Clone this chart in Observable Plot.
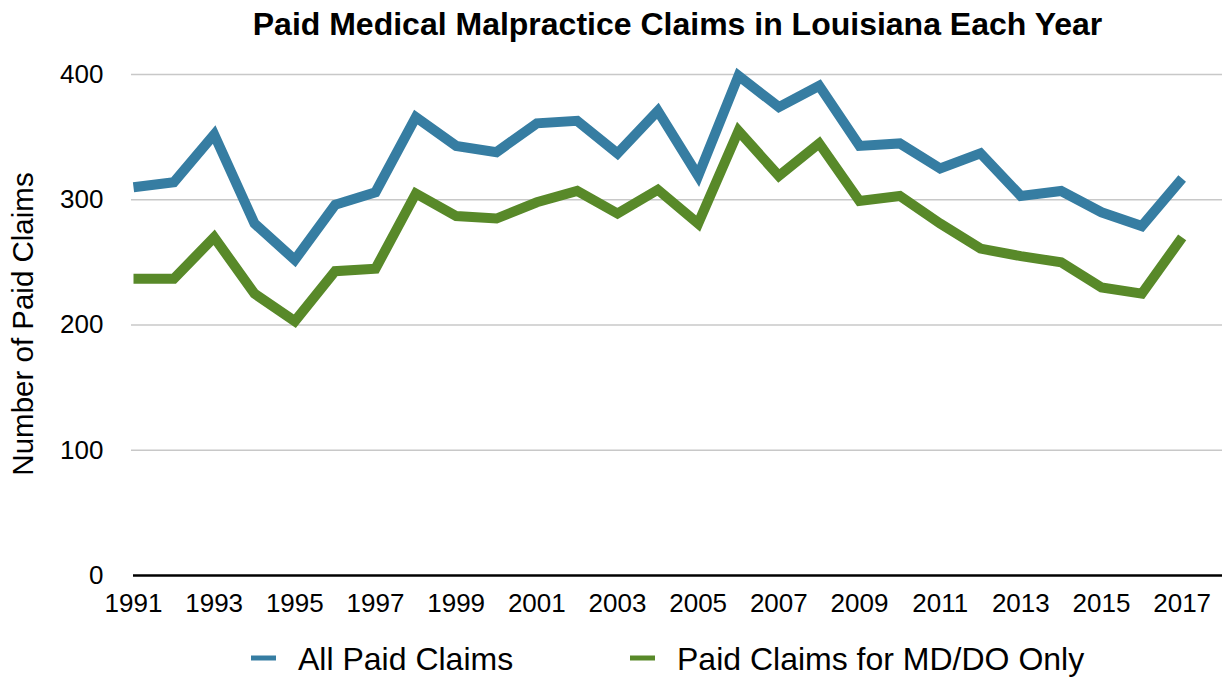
<!DOCTYPE html>
<html>
<head>
<meta charset="utf-8">
<script src="https://cdn.jsdelivr.net/npm/d3@7"></script>
<script src="https://cdn.jsdelivr.net/npm/@observablehq/plot@0.6"></script>
<style>
  html, body { margin: 0; padding: 0; background: #fff; }
  #wrap { position: relative; width: 1224px; height: 677px; font-family: "Liberation Sans", Arial, Helvetica, sans-serif; }
  #overlay { position: absolute; left: 0; top: 0; pointer-events: none; }
</style>
</head>
<body>
<div id="wrap"></div>
<script>
// ---- data ----
const years = [1991,1992,1993,1994,1995,1996,1997,1998,1999,2000,2001,2002,2003,2004,2005,2006,2007,2008,2009,2010,2011,2012,2013,2014,2015,2016,2017];
const allPaidClaims = [310,314,352,281,252,296,306,366,343,338,361,363,337,371,319,399,374,391,343,345,325,337,303,307,290,279,317];
const mdDoOnlyClaims = [237,237,270,225,203,243,245,305,287,285,298,307,289,308,281,355,319,345,299,303,281,261,255,250,230,225,270];
const xTickYears = [1991,1993,1995,1997,1999,2001,2003,2005,2007,2009,2011,2013,2015,2017];
const yTicks = [0,100,200,300,400];
const seriesNames = ["All Paid Claims", "Paid Claims for MD/DO Only"];
const seriesColors = ["#367da2", "#588929"];
const titleText = "Paid Medical Malpractice Claims in Louisiana Each Year";
const yLabelText = "Number of Paid Claims";

const rowsAll = years.map((y, i) => ({year: y, value: allPaidClaims[i]}));
const rowsMd = years.map((y, i) => ({year: y, value: mdDoOnlyClaims[i]}));

const W = 1224, H = 677;
const mL = 133, mR = 2, mT = 74, mB = 102;

const chart = Plot.plot({
  width: W,
  height: H,
  marginLeft: mL,
  marginRight: mR,
  marginTop: mT,
  marginBottom: mB,
  style: {fontFamily: "'Liberation Sans', Arial, Helvetica, sans-serif", fontSize: "26px", background: "white", color: "black"},
  x: {type: "linear", domain: [1991, 2018]},
  y: {domain: [0, 400]},
  marks: [
    Plot.gridY(yTicks.filter(d => d > 0), {stroke: "#c8c8c8", strokeOpacity: 1, strokeWidth: 1.3, x1: 1990.95, x2: 2018}),
    Plot.axisY({ticks: yTicks, tickSize: 0, tickPadding: 30, fontSize: 26, label: null}),
    Plot.axisX({ticks: xTickYears, tickFormat: d => String(d), tickSize: 0, tickPadding: 18, fontSize: 26, label: null}),
    Plot.ruleY([0], {stroke: "black", strokeWidth: 2.6}),
    Plot.line(rowsAll, {x: "year", y: "value", stroke: seriesColors[0], strokeWidth: 10, strokeLinejoin: "miter", strokeLinecap: "butt", strokeMiterlimit: 10}),
    Plot.line(rowsMd, {x: "year", y: "value", stroke: seriesColors[1], strokeWidth: 10, strokeLinejoin: "miter", strokeLinecap: "butt", strokeMiterlimit: 10})
  ]
});

const wrap = document.getElementById("wrap");
wrap.appendChild(chart);

// ---- overlay: title, y label, legend ----
const ov = d3.select(wrap).append("svg")
  .attr("id", "overlay")
  .attr("width", W).attr("height", H)
  .style("font-family", "'Liberation Sans', Arial, Helvetica, sans-serif");

ov.append("text")
  .attr("x", (mL + (W - mR)) / 2)
  .attr("y", 35)
  .attr("text-anchor", "middle")
  .attr("font-size", 32)
  .attr("font-weight", "bold")
  .text(titleText);

ov.append("text")
  .attr("transform", "translate(33,324) rotate(-90)")
  .attr("text-anchor", "middle")
  .attr("font-size", 29.5)
  .text(yLabelText);

const legendX = [251, 630];
seriesNames.forEach((name, i) => {
  ov.append("line")
    .attr("x1", legendX[i]).attr("x2", legendX[i] + 25)
    .attr("y1", 658).attr("y2", 658)
    .attr("stroke", seriesColors[i]).attr("stroke-width", 5);
  ov.append("text")
    .attr("x", legendX[i] + 47)
    .attr("y", 670)
    .attr("font-size", 32)
    .text(name);
});
</script>
</body>
</html>
